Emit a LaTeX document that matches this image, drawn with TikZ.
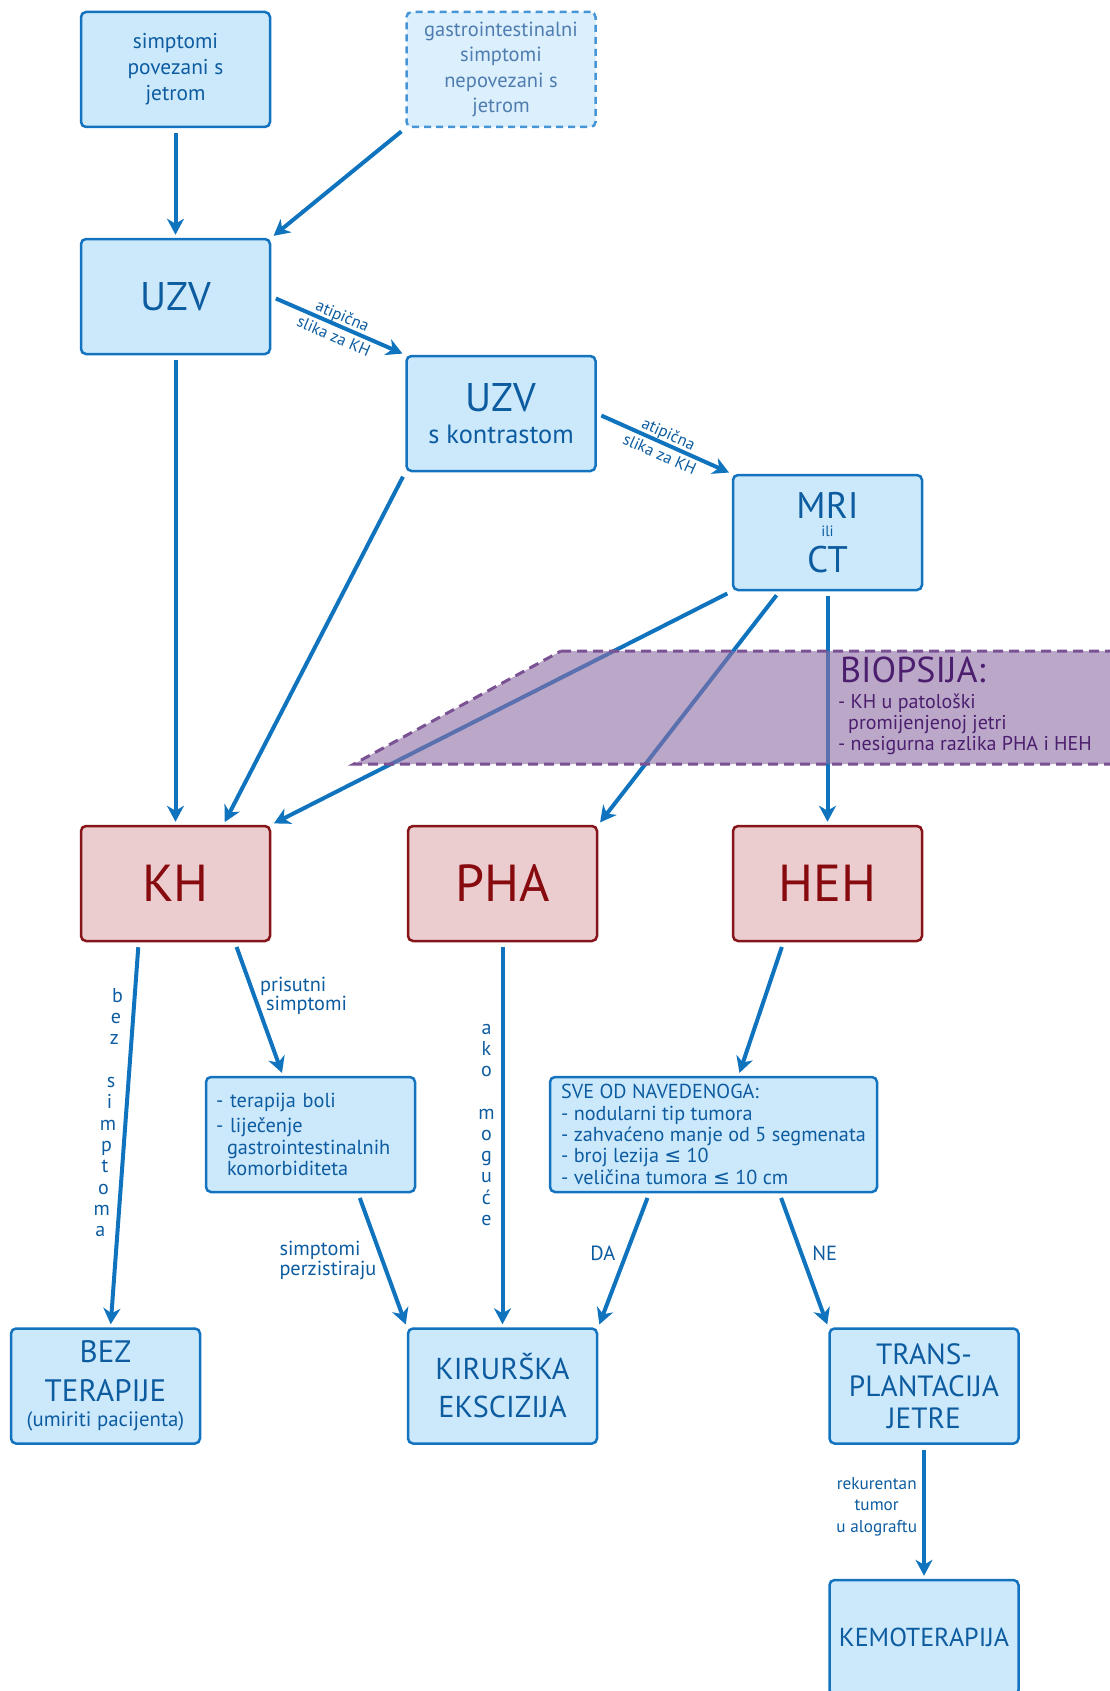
\documentclass[tikz,border=0pt]{standalone}
\usepackage{fontspec}
\setmainfont{PT Sans}
\newfontfamily\symfont{DejaVu Sans}
\usepackage{tikz}
\usetikzlibrary{arrows.meta,positioning,calc}
\definecolor{boxline}{RGB}{20,115,190}
\definecolor{boxfill}{RGB}{204,233,252}
\definecolor{boxtext}{RGB}{13,92,160}
\definecolor{dashline}{RGB}{70,150,215}
\definecolor{dashfill}{RGB}{219,239,253}
\definecolor{dashtext}{RGB}{80,125,175}
\definecolor{redline}{RGB}{135,20,25}
\definecolor{redfill}{RGB}{235,205,207}
\definecolor{redtext}{RGB}{135,10,15}
\definecolor{arrowc}{RGB}{15,115,190}
\definecolor{biofill}{RGB}{142,110,165}
\definecolor{bioline}{RGB}{122,82,148}
\definecolor{biotext}{RGB}{75,30,110}
\newcommand{\fsz}[2]{\fontsize{#1}{#2}\selectfont}
\newcommand{\leqs}{{\symfont ≤}}

\begin{document}
\begin{tikzpicture}[x=1pt,y=-1pt]
        \tikzset{
            box/.style={draw=boxline, fill=boxfill, line width=2.5pt, rounded corners=5pt,
                minimum width=189pt, minimum height=115pt, inner sep=4pt, align=center, text=boxtext},
            dashbox/.style={box, draw=dashline, fill=dashfill, text=dashtext, dash pattern=on 7pt off 5pt},
            redbox/.style={box, draw=redline, fill=redfill, text=redtext, font=\fsz{52}{52}},
            arr/.style={draw=arrowc, line width=4pt, -{Stealth[length=16pt,width=17pt,inset=5pt]},
                shorten <=5pt, shorten >=3pt},
            lbl/.style={text=boxtext, font=\fsz{16.5}{22}, align=center, inner sep=1pt},
            vlet/.style={text=boxtext, font=\fsz{20}{20}, anchor=mid, xshift=-16pt, inner sep=0pt}
        }
        \useasboundingbox (0,0) rectangle (1110,1691);
        \node[box, font=\fsz{21.4}{26}] (simp) at (175.5,69.5) {simptomi\\povezani s\\jetrom};
        \node[dashbox, font=\fsz{20.5}{25.5}] (gastro) at (501,69.5) {gastrointestinalni\\simptomi\\nepovezani s\\jetrom};
        \node[box, font=\fsz{40}{31}] (uzv) at (175.5,296.5) {UZV};
        \node[box, font=\fsz{40}{32}] (uzvk) at (501,413.5) {UZV\\{\fsz{26.4}{32}s kontrastom}};
        \node[box, font=\fsz{37}{26}] (mri) at (827.5,532.5) {MRI\\[-8pt]{\fsz{15}{26}ili}\\[8pt]CT};
        \node[redbox] (kh) at (175.5,883.5) {KH};
        \node[redbox] (pha) at (502.5,883.5) {PHA};
        \node[redbox] (heh) at (827.5,883.5) {HEH};
        \node[box, minimum width=209pt, text width=189pt, inner xsep=10pt, align=left, font=\fsz{20.3}{21.5}]
            (ter) at (310.5,1134.5) {- terapija boli\\[4pt]- liječenje\\\hspace*{11pt}gastrointestinalnih\\\hspace*{11pt}komorbiditeta};
        \node[box, minimum width=327pt, inner xsep=7pt, align=left, font=\fsz{20.2}{21.3}]
            (sve) at (713.5,1134.5) {SVE OD NAVEDENOGA:\\- nodularni tip tumora\\- zahvaćeno manje od 5 segmenata\\- broj lezija \leqs{} 10\\- veličina tumora \leqs{} 10 cm};
        \node[box, font=\fsz{31}{39}] (bez) at (105.5,1386) {BEZ\\TERAPIJE\\[-14pt]{\fsz{20.8}{25}(umiriti pacijenta)}};
        \node[box, font=\fsz{30.2}{38}] (kir) at (502.5,1386) {KIRURŠKA\\EKSCIZIJA};
        \node[box, font=\fsz{29.3}{32}] (trans) at (924,1386) {TRANS-\\PLANTACIJA\\JETRE};
        \node[box, font=\fsz{26}{30}] (kemo) at (924,1637.5) {KEMOTERAPIJA};

        \draw[arr] (simp) -- (uzv);
        \draw[arr] (gastro.south west) -- (uzv.north east);
        \draw[arr] (uzv.east) -- (uzvk.north west) node[lbl, midway, sloped] {atipična\\slika za KH};
        \draw[arr] (uzvk.east) -- (mri.north west) node[lbl, midway, sloped] {atipična\\slika za KH};
        \draw[arr] (uzv) -- (kh);
        \draw[arr] (uzvk.south west) -- ($(kh.north)!0.5!(kh.north east)$);
        \draw[arr] (mri.south west) -- (kh.north east);
        \draw[arr] ($(mri.south west)!0.5!(mri.south)$) -- (pha.north east);
        \draw[arr] (mri) -- (heh);
        \draw[arr] ($(kh.south west)!0.615!(kh.south)$) -- ([xshift=5pt]bez.north);
        \foreach \ch [count=\i from 0] in {b,e,z,{},s,i,m,p,t,o,m,a}
            \path ($(kh.south west)!0.615!(kh.south)$) -- ([xshift=5pt]bez.north) node[vlet, xshift=-1pt, pos=0.149+0.0554*\i] {\ch};
        \draw[arr] ($(kh.south)!0.62!(kh.south east)$) -- ($(ter.north west)!0.74!(ter.north)$)
            node[lbl, pos=0.4, anchor=west, xshift=3pt, align=left, font=\fsz{20.3}{18.5}] {prisutni\\\hspace*{6pt}simptomi};
        \draw[arr] ($(ter.south)!0.45!(ter.south east)$) -- (kir.north west)
            node[lbl, pos=0.5, anchor=east, xshift=-3pt, align=left, font=\fsz{20.3}{20.5}] {simptomi\\perzistiraju};
        \draw[arr] (pha) -- (kir);
        \foreach \ch [count=\i from 0] in {a,k,o,{},m,o,g,u,ć,e}
            \path (pha.south) -- (kir.north) node[vlet, pos=0.232+0.0552*\i] {\ch};
        \draw[arr] ($(heh.south west)!0.54!(heh.south)$) -- ([xshift=25pt]sve.north);
        \draw[arr] ($(sve.south west)!0.61!(sve.south)$) -- (kir.north east)
            node[lbl, pos=0.45, anchor=east, xshift=-8pt, font=\fsz{20.5}{20}] {DA};
        \draw[arr] ($(sve.south)!0.4!(sve.south east)$) -- (trans.north west)
            node[lbl, pos=0.45, anchor=west, xshift=8pt, font=\fsz{20.5}{20}] {NE};
        \draw[arr] (trans) -- (kemo)
            node[lbl, pos=0.46, anchor=east, xshift=-4pt, font=\fsz{17.2}{21.5}] {rekurentan\\tumor\\u alograftu};

        \draw[draw=bioline, fill=biofill, fill opacity=0.6, line width=3pt, dash pattern=on 10pt off 6pt]
            (561,651) -- (1125,651) -- (1125,764) -- (354,764) -- cycle;
        \node[anchor=west, text=biotext, font=\fsz{36}{36}, inner sep=0pt] (biop) at (840,670) {BIOPSIJA:};
        \node[anchor=west, text=biotext, align=left, font=\fsz{20}{21}, inner sep=0pt] (biotxt) at (838,724)
            {- KH u patološki\\\hspace*{10pt}promijenjenoj jetri\\- nesigurna razlika PHA i HEH};
\end{tikzpicture}
\end{document}
